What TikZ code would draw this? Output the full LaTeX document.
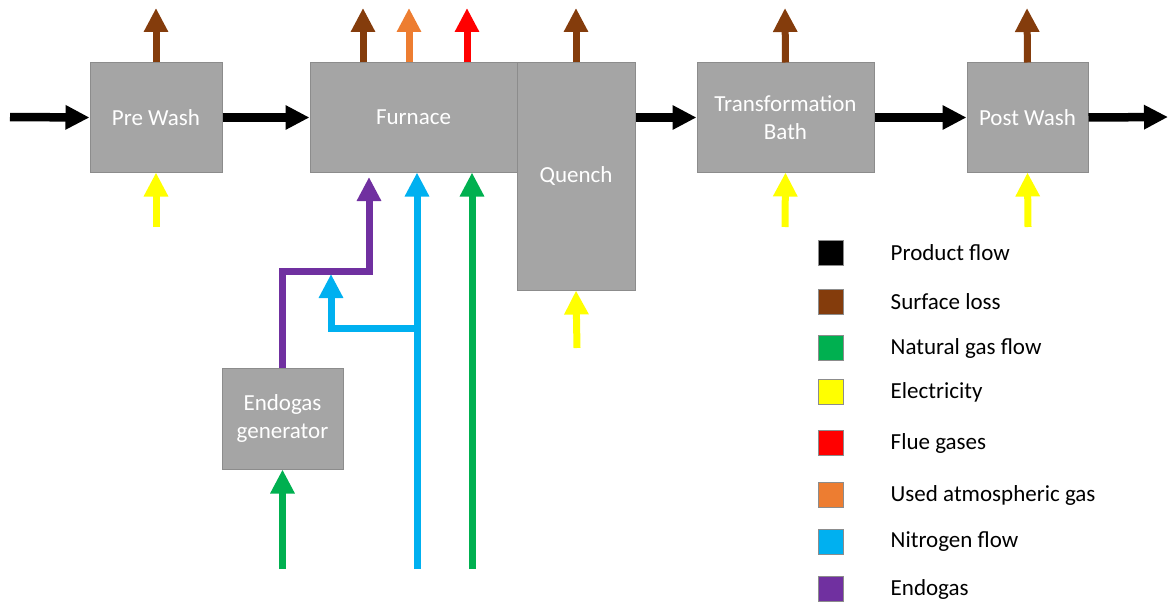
\documentclass[tikz,border=0pt]{standalone}
\usepackage{fontspec}
\setmainfont{Carlito}
\usepackage{tikz}
\usetikzlibrary{arrows.meta,positioning}

\definecolor{boxgray}{HTML}{A5A5A5}
\definecolor{boxline}{HTML}{8C8C8C}
\definecolor{lossbrown}{HTML}{843C0C}
\definecolor{atmorange}{HTML}{ED7D31}
\definecolor{fluered}{HTML}{FF0000}
\definecolor{elecyellow}{HTML}{FFFF00}
\definecolor{gasgreen}{HTML}{00B050}
\definecolor{nitroblue}{HTML}{00B0F0}
\definecolor{endopurple}{HTML}{7030A0}

\tikzset{
	proc/.style={draw=boxline, line width=1pt, fill=boxgray, text=white, align=center,
		inner sep=0pt, font=\fontsize{23}{28}\selectfont},
	flow/.style={line width=7pt, line join=miter, -{Triangle[width=23pt,length=24pt]}},
	product/.style={flow, line width=8.5pt, black},
	keybox/.style={draw=boxline, line width=1pt, minimum size=25pt, inner sep=0pt},
	keytext/.style={inner sep=0pt, font=\fontsize{23}{28}\selectfont}
}

\begin{document}
\begin{tikzpicture}[x=1pt,y=-1pt]
	\useasboundingbox (0,0) rectangle (1171,602);

	% process boxes
	\node (prewash)[proc, minimum width=132pt, minimum height=109pt] at (156,117.5) {Pre Wash};
	\node (furnace)[proc, minimum width=207pt, minimum height=109pt] at (413.5,117.5) {Furnace};
	\node (quench)[proc, minimum width=118pt, minimum height=227pt] at (576,176.5) {Quench};
	\node (bath)[proc, minimum width=177pt, minimum height=109pt] at (785.5,117.5) {Transformation\\Bath};
	\node (postwash)[proc, minimum width=121pt, minimum height=109pt] at (1027.5,117.5) {Post Wash};
	\node (endogen)[proc, minimum width=121pt, minimum height=101pt] at (282.5,418.5) {Endogas\\generator};

	% free ends
	\coordinate (pin) at (10,117);
	\coordinate (pout) at (1168,117);
	\coordinate (loss1) at (156,8);
	\coordinate (loss2) at (363,8);
	\coordinate (atm) at (409,8);
	\coordinate (flue) at (467,8);
	\coordinate (loss3) at (576,8);
	\coordinate (loss4) at (785,8);
	\coordinate (loss5) at (1027,8);
	\coordinate (elec1) at (156,227);
	\coordinate (elec2) at (577,348);
	\coordinate (elec3) at (785,227);
	\coordinate (elec4) at (1028,227);
	\coordinate (endotop) at (369,177);
	\coordinate (endoturn) at (369,271.5);
	\coordinate (nitroin) at (417,569);
	\coordinate (nitrosplit) at (417,328);
	\coordinate (nitromix) at (331,274);
	\coordinate (gasin) at (472,569);
	\coordinate (gengas) at (282.5,569);

	% product flow
	\draw[product] (pin)--(prewash.west);
	\draw[product] (prewash.east)--(furnace.west);
	\draw[product] (quench.east |- bath.west)--(bath.west);
	\draw[product] (bath.east)--(postwash.west);
	\draw[product] (postwash.east)--(pout);

	% losses
	\draw[flow, lossbrown] (prewash.north)--(loss1);
	\draw[flow, lossbrown] (loss2 |- furnace.north)--(loss2);
	\draw[flow, atmorange] (atm |- furnace.north)--(atm);
	\draw[flow, fluered] (flue |- furnace.north)--(flue);
	\draw[flow, lossbrown] (quench.north)--(loss3);
	\draw[flow, lossbrown] (bath.north)--(loss4);
	\draw[flow, lossbrown] (postwash.north)--(loss5);

	% electricity
	\draw[flow, elecyellow] (elec1)--(prewash.south);
	\draw[flow, elecyellow] (elec2)--(quench.south);
	\draw[flow, elecyellow] (elec3)--(bath.south);
	\draw[flow, elecyellow] (elec4)--(postwash.south);

	% furnace atmosphere
	\draw[flow, endopurple] (endogen.north) |- (endoturn)--(endotop);
	\draw[flow, nitroblue] (nitroin)--(nitroin |- furnace.south);
	\draw[flow, nitroblue] (nitrosplit) -| (nitromix);
	\draw[flow, gasgreen] (gasin)--(gasin |- furnace.south);
	\draw[flow, gasgreen] (gengas)--(endogen.south);

	% legend
	\foreach \y/\col/\txt [count=\i] in {253/black/Product flow, 302/lossbrown/Surface loss,
		348/gasgreen/Natural gas flow, 392/elecyellow/Electricity, 443/fluered/Flue gases,
		495/atmorange/Used atmospheric gas, 542/nitroblue/Nitrogen flow, 589/endopurple/Endogas}{
		\node (key\i)[keybox, fill=\col] at (830.5,\y) {};
		\node (lab\i)[keytext, right=47pt of key\i] {\txt};
	}
\end{tikzpicture}
\end{document}
